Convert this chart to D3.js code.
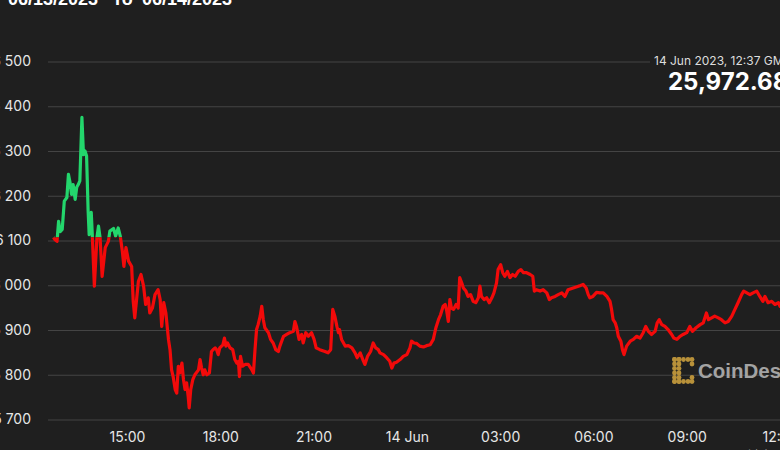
<!DOCTYPE html>
<html><head><meta charset="utf-8">
<script src="https://cdn.jsdelivr.net/npm/d3@7"></script>
<style>
html,body{margin:0;padding:0;background:#1f1f1f;overflow:hidden}
svg{display:block}
</style></head><body>
<svg id="c" width="780" height="450"></svg>
<script>
// minutes after 13 Jun 2023 12:00 GMT
const minutes = [38,41,45,48,51,55,59,64,67,70,73,76,80,83,86,89,93,96,99,102,105,107,111,113,117,122,125,128,132,138,144,147,154,158,163,167,171,174,178,183,189,192,195,202,207,212,216,221,224,229,234,
240,244,247,251,255,260,263,266,269,273,276,279,282,286,289,292,295,298,300,303,307,311,318,321,324,327,330,334,339,343,346,350,353,356,359,365,368,371,374,379,384,388,392,395,397,399,403,408,414,421,424,427,430,433,437,440,443,446,453,457,462,467,472,475,
482,488,494,501,504,507,512,517,520,525,530,536,541,545,552,562,568,573,577,581,585,588,590,594,601,607,614,620,624,630,635,639,644,650,655,660,665,668,675,681,687,691,695,700,707,713,720,726,729,734,739,745,752,758,765,771,776,781,785,790,794,797,800,803,806,810,815,819,822,826,829,834,838,843,848,853,858,861,864,869,874,879,884,888,893,896,901,905,909,914,919,924,929,935,940,945,951,958,963,966,970,977,983,990,995,999,1006,1012,1019,1025,1031,1041,1051,
1054,1060,1066,1070,1073,1079,1086,1093,1099,1106,1112,1115,1118,1122,1125,1128,1133,1136,1139,1144,1151,1157,1163,1170,1176,1181,1186,1192,1199,1203,1207,1212,1218,1224,1231,1235,1241,1247,1253,1260,1266,1271,1278,1286,1292,1298,1302,1308,1314,1321,1327,1334,1340,1347,1353,1359,1366,1370,1376,1382,1388,1395,1401,1407,1411,1417,1424,1430,1437,1440,1459,1477];
const prices = [26107,26102,26098,26143,26120,26125,26188,26196,26248,26230,26203,26225,26192,26219,26225,26233,26375,26292,26300,26289,26166,26113,26163,26113,25998,26107,26132,26107,26020,26084,26098,26121,26127,26110,26128,26110,26076,26042,26084,26054,26042,25964,25927,26009,26024,25998,25957,25972,25938,25949,25979,
25990,25968,25908,25961,25938,25879,25856,25811,25796,25767,25759,25819,25804,25826,25789,25767,25782,25752,25726,25767,25789,25800,25811,25834,25815,25800,25811,25800,25804,25852,25856,25860,25856,25845,25860,25867,25882,25864,25871,25860,25856,25834,25826,25830,25796,25841,25819,25823,25823,25811,25804,25856,25901,25912,25931,25953,25923,25905,25894,25879,25871,25856,25852,25864,
25886,25890,25894,25897,25919,25908,25879,25890,25871,25894,25886,25894,25879,25860,25856,25852,25849,25856,25946,25931,25908,25894,25901,25879,25864,25865,25860,25849,25838,25849,25834,25823,25841,25852,25871,25860,25856,25849,25845,25838,25830,25815,25826,25828,25834,25841,25845,25860,25875,25871,25870,25864,25862,25865,25867,25879,25905,25923,25934,25953,25957,25942,25919,25968,25949,25946,25957,25949,26017,26005,25994,25987,25975,25979,25964,25961,25972,25998,25975,25968,25972,25961,25972,25983,26005,26035,26046,26028,26020,26031,26017,26024,26020,26031,26035,26028,26028,26024,26020,25987,25990,25987,25990,25983,25968,25972,25975,25979,25983,25975,25990,25994,25998,
25999,26002,25994,25979,25972,25975,25984,25983,25983,25975,25964,25946,25923,25916,25905,25886,25875,25856,25845,25864,25875,25879,25886,25882,25894,25908,25897,25890,25897,25916,25923,25912,25908,25901,25890,25882,25879,25886,25890,25894,25908,25897,25905,25912,25916,25938,25923,25927,25931,25927,25923,25916,25919,25931,25946,25961,25979,25987,25983,25979,25983,25987,25975,25964,25975,25961,25964,25957,25961,25953,25960,25972.68];

const yTicks = [25700,25800,25900,26000,26100,26200,26300,26400,26500];
const yTickLabels = ["25 700","25 800","25 900","26 000","26 100","26 200","26 300","26 400","26 500"];
const xTickHours = [15,18,21,24,27,30,33,36]; // hours after 13 Jun 00:00 GMT
const xTickLabels = ["15:00","18:00","21:00","14 Jun","03:00","06:00","09:00","12:00"];
const titleParts = ["06/13/2023","To","06/14/2023"];
const lastTimeLabel = "14 Jun 2023, 12:37 GMT";
const lastPriceLabel = "25,972.68";
const brandLabel = "CoinDesk";
const creditLabel = "Highcharts.com";

const W = 780, H = 450;
const BG = "#1f1f1f";
const base = Date.UTC(2023,5,13,12,0);
const day0 = Date.UTC(2023,5,13,0,0);
const data = minutes.map((m,i)=>({t:new Date(base+m*60000), p:prices[i]}));
const openPrice = prices[0];

const svg = d3.select("#c");
svg.append("rect").attr("width",W).attr("height",H).attr("fill",BG);

const x = d3.scaleUtc()
  .domain([new Date(day0+15*3600000), new Date(day0+36*3600000)])
  .range([127, 780]);
const y = d3.scaleLinear().domain([25700, 26500]).range([419.5, 61.5]);

// y grid + labels
const yAxis = d3.axisLeft(y).tickValues(yTicks)
  .tickFormat((d,i)=>yTickLabels[i]).tickSize(-900).tickPadding(17);
const gy = svg.append("g").attr("transform","translate(48,0)").call(yAxis);
gy.select(".domain").remove();
gy.selectAll(".tick line").attr("stroke","#444").attr("stroke-width",1);
gy.selectAll(".tick text").attr("fill","#e6e6e6")
  .style("font-family","Inter, 'Liberation Sans', sans-serif").style("font-size","14px");

// x labels
const xAxis = d3.axisBottom(x).tickValues(xTickHours.map(h=>new Date(day0+h*3600000)))
  .tickFormat((d,i)=>xTickLabels[i]).tickSize(0).tickPadding(0);
const gx = svg.append("g").attr("transform","translate(0,432)").call(xAxis);
gx.select(".domain").remove();
gx.selectAll(".tick text").attr("fill","#e6e6e6")
  .style("font-family","Inter, 'Liberation Sans', sans-serif").style("font-size","14px");

// two-tone line clipped at opening price
const yT = y(openPrice);
const defs = svg.append("defs");
defs.append("clipPath").attr("id","above").append("rect")
  .attr("x",0).attr("y",0).attr("width",W).attr("height",yT);
defs.append("clipPath").attr("id","below").append("rect")
  .attr("x",0).attr("y",yT).attr("width",W).attr("height",H-yT);
const line = d3.line().x(d=>x(d.t)).y(d=>y(d.p));
svg.append("path").datum(data).attr("d",line).attr("fill","none")
  .attr("stroke","#23d66c").attr("stroke-width",3.2).attr("stroke-linejoin","round")
  .attr("clip-path","url(#above)");
svg.append("path").datum(data).attr("d",line).attr("fill","none")
  .attr("stroke","#f20a0a").attr("stroke-width",3.2).attr("stroke-linejoin","round")
  .attr("clip-path","url(#below)");

// title (cropped at top)
const tx = [8,112,142];
titleParts.forEach((t,i)=>{
  svg.append("text").attr("x",tx[i]).attr("y",5).text(t)
    .attr("fill","#ffffff").style("font-family","'Liberation Sans', Arial, sans-serif")
    .style("font-weight","bold").style("font-size","18px");
});

// last price box
svg.append("rect").attr("x",650).attr("y",52).attr("width",140).attr("height",46).attr("fill",BG);
svg.append("text").attr("x",654).attr("y",64.5).text(lastTimeLabel)
  .attr("fill","#dddddd").style("font-family","Inter, sans-serif").style("font-size","12px");
svg.append("text").attr("x",668).attr("y",90).text(lastPriceLabel)
  .attr("fill","#ffffff").style("font-family","Inter, sans-serif")
  .style("font-weight","700").style("font-size","24px");

// watermark
const logo = svg.append("g").attr("fill","#b8913a");
const cols = [674.5,679,683.5,688,692];
const rows = [359.5,364,368.5,373,377.5,381.5];
const dots = [];
cols.forEach(cx=>{dots.push([cx,rows[0]]); dots.push([cx,rows[5]]);});
rows.forEach(cy=>{dots.push([cols[0],cy]); dots.push([cols[1],cy]);});
dots.push([cols[4],rows[1]]); dots.push([cols[4],rows[4]]);
logo.selectAll("circle").data(dots).join("circle")
  .attr("cx",d=>d[0]).attr("cy",d=>d[1]).attr("r",2.4);
svg.append("text").attr("x",698).attr("y",378).text(brandLabel)
  .attr("fill","#a3a3a3").style("font-family","'Liberation Sans', Arial, sans-serif")
  .style("font-weight","700").style("font-size","20.5px");

// credit
svg.append("text").attr("x",742).attr("y",456).text(creditLabel)
  .attr("fill","#999").style("font-family","'Liberation Sans', sans-serif").style("font-size","9px");
</script>
</body></html>
